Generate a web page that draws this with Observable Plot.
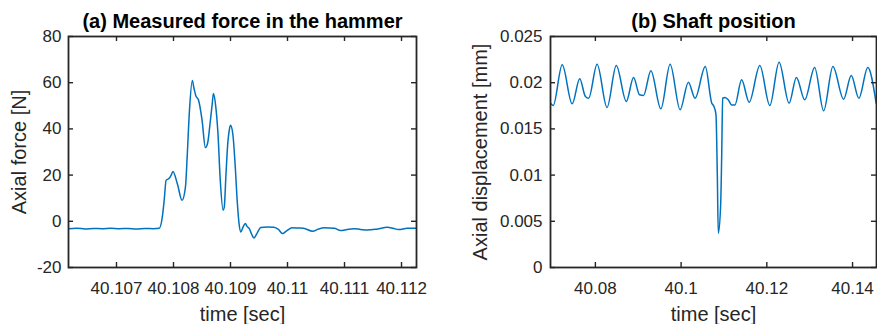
<!DOCTYPE html>
<html>
<head>
<meta charset="utf-8">
<script src="https://cdn.jsdelivr.net/npm/d3@7"></script>
<script src="https://cdn.jsdelivr.net/npm/@observablehq/plot@0.6"></script>
<style>
  html, body { margin: 0; padding: 0; background: #fff; }
  #wrap { position: relative; width: 877px; height: 324px; overflow: hidden; background: #fff; }
  #wrap > svg { position: absolute; top: 0; }
</style>
</head>
<body>
<div id="wrap"></div>
<script>
// ---------- Panel (a): measured force in the hammer ----------
const titleA = "(a) Measured force in the hammer";
const xLabelA = "time [sec]";
const yLabelA = "Axial force [N]";
const timeA = [40.10616, 40.1063, 40.10645, 40.1066, 40.10675, 40.1069, 40.10705, 40.1072, 40.10735, 40.1075, 40.10765, 40.10775,
  40.10781, 40.10784, 40.10787, 40.10792, 40.10796, 40.10799, 40.10807, 40.10815, 40.10821, 40.10824, 40.10828, 40.10833,
  40.10836, 40.10839, 40.10844, 40.1085, 40.10856, 40.1086, 40.10864, 40.10868, 40.1087, 40.10874, 40.10878, 40.10882,
  40.10887, 40.10889, 40.10892, 40.10895, 40.10898, 40.109, 40.10904, 40.10908, 40.10912, 40.10915, 40.10918, 40.10922,
  40.10926, 40.10929, 40.10933, 40.10937, 40.10941, 40.10947, 40.10953, 40.10965, 40.10976, 40.10984, 40.10991, 40.10999,
  40.11008, 40.11018, 40.11028, 40.11044, 40.11054, 40.11064, 40.11082, 40.11093, 40.11105, 40.11116, 40.11128, 40.1114,
  40.11158, 40.11175, 40.11185, 40.11195, 40.1121, 40.11226];
const forceA = [-3.2, -3.0, -3.3, -3.1, -3.2, -3.0, -3.2, -3.1, -3.3, -3.1, -3.2, -3.0,
  3, 10, 17.7, 18.5, 20, 21.6, 16, 9.1, 14.9, 28, 48, 61,
  57.5, 54.5, 52.4, 44, 31.9, 34, 42, 51, 55.3, 50, 38, 18,
  4.8, 6, 20, 33, 39.7, 41.6, 38, 25, 8, -1, -4.6, -2.5,
  -1.0, -2.2, -3.2, -5.5, -7.2, -5, -2.7, -2.5, -2.6, -3.5, -5.3, -4,
  -2.8, -2.9, -3.0, -4.3, -3.4, -2.8, -3.0, -4.0, -3.5, -3.2, -3.5, -3.8,
  -3.3, -2.6, -3.0, -3.6, -3.0, -3.0];
const xTicksA = [40.107, 40.108, 40.109, 40.11, 40.111, 40.112];
const xTickLabelsA = ["40.107", "40.108", "40.109", "40.11", "40.111", "40.112"];
const yTicksA = [-20, 0, 20, 40, 60, 80];
const yTickLabelsA = ["-20", "0", "20", "40", "60", "80"];

// ---------- Panel (b): shaft position ----------
const titleB = "(b) Shaft position";
const xLabelB = "time [sec]";
const yLabelB = "Axial displacement [mm]";
const timeB = [40.06953, 40.07016, 40.07226, 40.07458, 40.07635, 40.07767, 40.07844, 40.0804, 40.08272, 40.08488,
  40.08721, 40.08891, 40.0903, 40.09123, 40.09295, 40.09528, 40.09744, 40.09977, 40.1017, 40.10326,
  40.10565, 40.10714, 40.10767, 40.10814, 40.10845, 40.10868, 40.10923, 40.10947, 40.1097, 40.11023,
  40.111, 40.11179, 40.11256, 40.11412, 40.11588, 40.11837, 40.1207, 40.12286, 40.12519, 40.12691,
  40.12884, 40.13116, 40.13326, 40.13542, 40.13791, 40.1397, 40.14147, 40.14356, 40.14551];
const dispB = [0.01778, 0.01753, 0.02194, 0.01771, 0.02042, 0.01851, 0.01832, 0.0220, 0.01732, 0.02186,
  0.01797, 0.02056, 0.01869, 0.01861, 0.02128, 0.01717, 0.0220, 0.01707, 0.02006, 0.01832,
  0.02175, 0.01780, 0.01742, 0.01652, 0.0100, 0.00371, 0.00679, 0.0120, 0.01832, 0.0184,
  0.01815, 0.0176, 0.0176, 0.02031, 0.01789, 0.02186, 0.01753, 0.02222, 0.01778, 0.02056,
  0.01815, 0.02165, 0.01696, 0.02175, 0.01822, 0.02078, 0.01832, 0.02165, 0.01778];
const xTicksB = [40.08, 40.1, 40.12, 40.14];
const xTickLabelsB = ["40.08", "40.1", "40.12", "40.14"];
const yTicksB = [0, 0.005, 0.01, 0.015, 0.02, 0.025];
const yTickLabelsB = ["0", "0.005", "0.01", "0.015", "0.02", "0.025"];

const LINE = "#0072BD";
const AX = "#262626";
const FONT = "'Liberation Sans', Arial, Helvetica, sans-serif";

function panel({width, height, mL, mR, mT, mB, xDomain, yDomain, times, values, xTicks, xTickLabels,
                yTicks, yTickLabels, title, xLabel, yLabel, yLabelDx, yTickDx}) {
  const innerW = width - mL - mR;
  const innerH = height - mT - mB;
  const data = times.map((t, i) => ({t, v: values[i]}));
  const tl = 5;
  return Plot.plot({
    width, height,
    marginLeft: mL, marginRight: mR, marginTop: mT, marginBottom: mB,
    x: {domain: xDomain, axis: null},
    y: {domain: yDomain, axis: null},
    style: {fontFamily: FONT, background: "white", color: AX, overflow: "visible"},
    marks: [
      Plot.line(data, {x: "t", y: "v", stroke: LINE, strokeWidth: 1.5, curve: "monotone-x", clip: true}),
      Plot.frame({stroke: AX, strokeWidth: 1.8}),
      Plot.tickX(xTicks, {x: d => d, insetTop: innerH - tl, stroke: AX, strokeWidth: 1.4}),
      Plot.tickX(xTicks, {x: d => d, insetBottom: innerH - tl, stroke: AX, strokeWidth: 1.4}),
      Plot.tickY(yTicks, {y: d => d, insetRight: innerW - tl, stroke: AX, strokeWidth: 1.4}),
      Plot.tickY(yTicks, {y: d => d, insetLeft: innerW - tl, stroke: AX, strokeWidth: 1.4}),
      Plot.text(xTicks, {x: d => d, text: (d, i) => xTickLabels[i], frameAnchor: "bottom", lineAnchor: "top",
        dy: 14, fontSize: 17, fill: AX}),
      Plot.text(yTicks, {y: d => d, text: (d, i) => yTickLabels[i], frameAnchor: "left", textAnchor: "end",
        lineAnchor: "middle", dx: yTickDx, fontSize: 17, fill: AX}),
      Plot.text([title], {text: d => d, frameAnchor: "top", textAnchor: "middle", lineAnchor: "middle", dy: -15,
        fontSize: 20, fontWeight: "bold", fill: "#000"}),
      Plot.text([xLabel], {text: d => d, frameAnchor: "bottom", textAnchor: "middle", lineAnchor: "middle", dy: 47,
        fontSize: 20, fill: AX}),
      Plot.text([yLabel], {text: d => d, frameAnchor: "left", textAnchor: "middle", lineAnchor: "middle",
        rotate: -90, dx: yLabelDx, fontSize: 20, fill: AX})
    ]
  });
}

const svgA = panel({
  width: 440, height: 324, mL: 68, mR: 24, mT: 36, mB: 57,
  xDomain: [40.106158, 40.112263], yDomain: [-20, 80],
  times: timeA, values: forceA, xTicks: xTicksA, xTickLabels: xTickLabelsA,
  yTicks: yTicksA, yTickLabels: yTickLabelsA, title: titleA, xLabel: xLabelA, yLabel: yLabelA,
  yLabelDx: -49, yTickDx: -7
});
const svgB = panel({
  width: 437, height: 324, mL: 110, mR: 1, mT: 36, mB: 57,
  xDomain: [40.06953, 40.14559], yDomain: [0, 0.025],
  times: timeB, values: dispB, xTicks: xTicksB, xTickLabels: xTickLabelsB,
  yTicks: yTicksB, yTickLabels: yTickLabelsB, title: titleB, xLabel: xLabelB, yLabel: yLabelB,
  yLabelDx: -69.5, yTickDx: -8
});
svgA.style.left = "0px";
svgB.style.left = "440px";
document.getElementById("wrap").append(svgA, svgB);
</script>
</body>
</html>
